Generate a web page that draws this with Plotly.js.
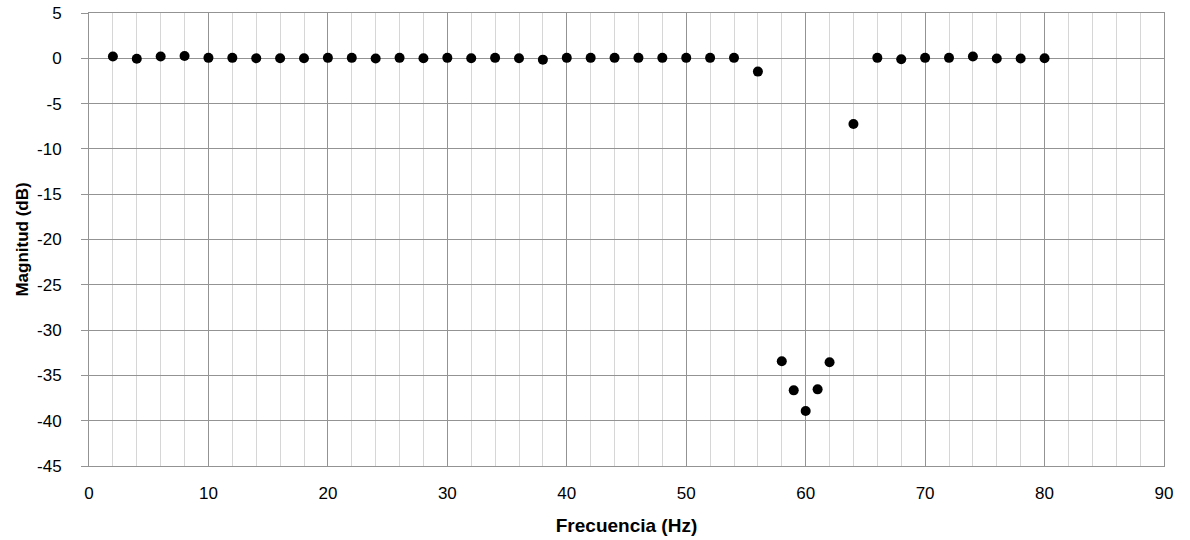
<!DOCTYPE html>
<html>
<head>
<meta charset="utf-8">
<script src="https://cdn.plot.ly/plotly-3.0.1.min.js"></script>
<style>html,body{margin:0;padding:0;background:#fff;}#chart{width:1190px;height:540px;}</style>
</head>
<body>
<div id="chart"></div>
<script>
const frecuencia = [2,4,6,8,10,12,14,16,18,20,22,24,26,28,30,32,34,36,38,40,42,44,46,48,50,52,54,56,58,59,60,61,62,64,66,68,70,72,74,76,78,80];
const magnitud = [0.19,-0.05,0.2,0.25,0.05,0.05,0,0,0,0.05,0.05,-0.02,0.05,0,0.05,0,0.05,0,-0.15,0.05,0.05,0.05,0.05,0.05,0.05,0.05,0.05,-1.47,-33.44,-36.65,-38.93,-36.54,-33.55,-7.25,0.05,-0.1,0.05,0.05,0.2,-0.03,-0.02,0.0];
const xTickVals = [0,10,20,30,40,50,60,70,80,90];
const xTickText = ['0','10','20','30','40','50','60','70','80','90'];
const yTickVals = [5,0,-5,-10,-15,-20,-25,-30,-35,-40,-45];
const yTickText = ['5','0','-5','-10','-15','-20','-25','-30','-35','-40','-45'];
const xTitle = 'Frecuencia (Hz)';
const yTitle = 'Magnitud (dB)';

const FONT = 'Liberation Sans, Arial, sans-serif';
const trace = {
  x: frecuencia, y: magnitud, mode: 'markers', type: 'scatter',
  marker: {color: '#000', size: 10},
  hoverinfo: 'x+y'
};
const layout = {
  width: 1190, height: 540,
  margin: {l: 89, r: 26, t: 13, b: 74},
  paper_bgcolor: '#fff', plot_bgcolor: '#fff',
  font: {family: FONT, size: 17, color: '#000'},
  showlegend: false,
  xaxis: {
    range: [0, 90], tickmode: 'array', tickvals: xTickVals, ticktext: xTickText,
    showgrid: true, gridcolor: '#939393', gridwidth: 1,
    minor: {dtick: 2, tick0: 0, showgrid: true, gridcolor: '#d6d6d6', gridwidth: 1},
    showline: true, linecolor: '#939393', linewidth: 1, mirror: true,
    zeroline: false, ticks: 'outside', ticklen: 12, tickcolor: 'rgba(0,0,0,0)',
    tickfont: {size: 17, family: FONT},
    title: {text: xTitle, font: {size: 19, family: FONT, weight: 'bold'}, standoff: 16}
  },
  yaxis: {
    range: [-45, 5], tickmode: 'array', tickvals: yTickVals, ticktext: yTickText,
    showgrid: true, gridcolor: '#939393', gridwidth: 1,
    showline: true, linecolor: '#939393', linewidth: 1, mirror: true,
    zeroline: false, ticks: 'outside', ticklen: 7, tickcolor: '#939393',
    ticklabelstandoff: 16,
    tickfont: {size: 17, family: FONT},
    title: {text: yTitle, font: {size: 17, family: FONT, weight: 'bold'}, standoff: 4}
  }
};
Plotly.newPlot('chart', [trace], layout, {displayModeBar: false, staticPlot: true});
</script>
</body>
</html>
